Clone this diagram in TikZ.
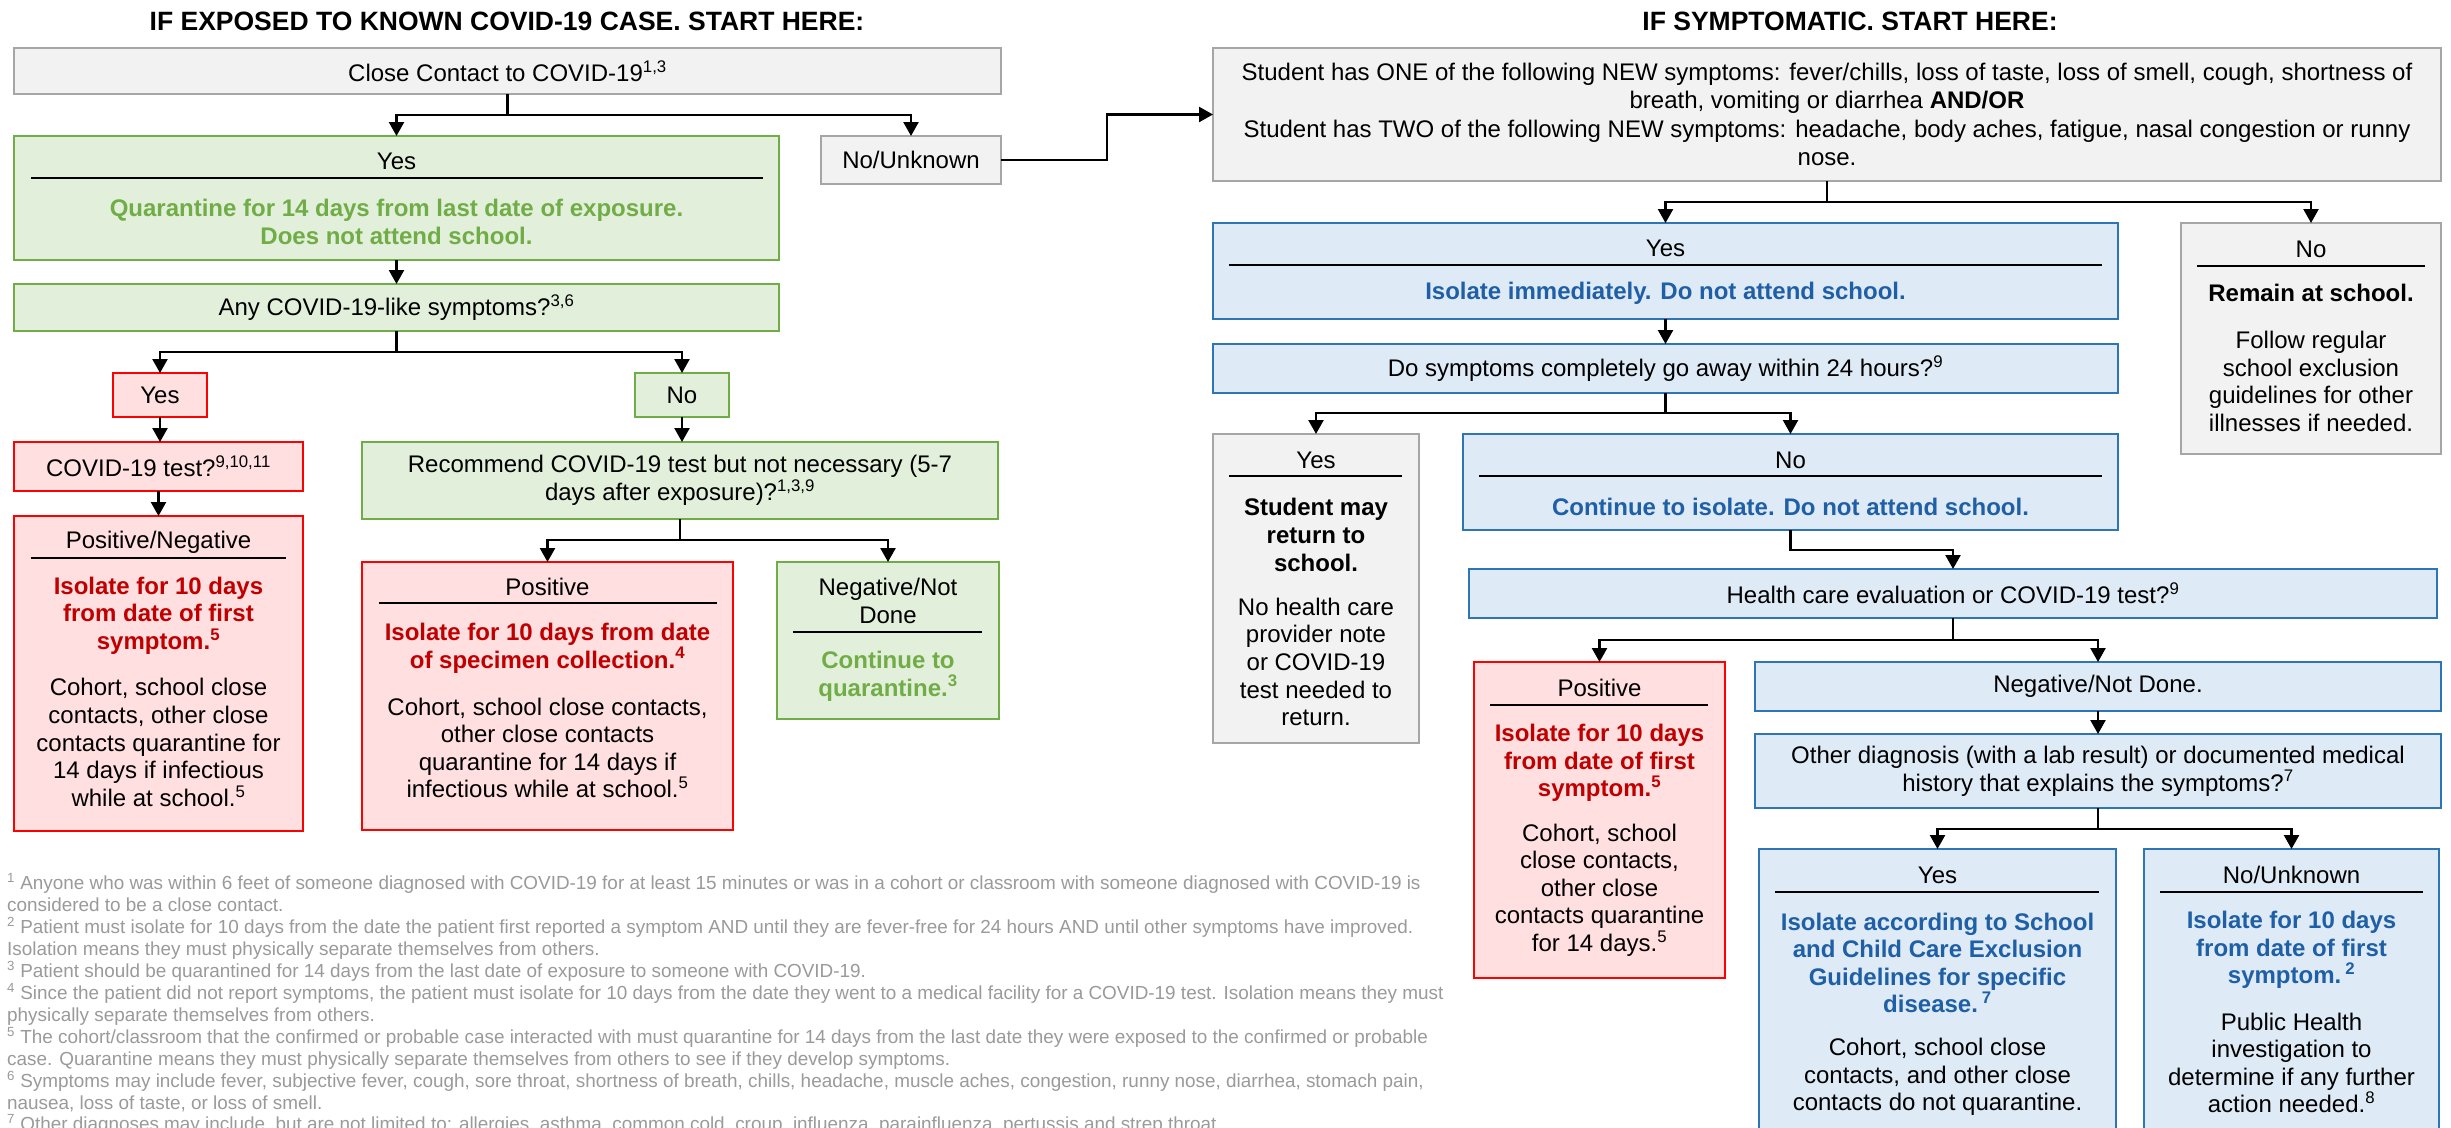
\documentclass[tikz,border=0pt]{standalone}
\usepackage{fontspec}
\setmainfont{Liberation Sans}
\usetikzlibrary{arrows.meta}
\definecolor{grayF}{HTML}{F2F2F2}
\definecolor{grayB}{HTML}{A6A6A6}
\definecolor{greenF}{HTML}{E2EFDA}
\definecolor{greenB}{HTML}{70AD47}
\definecolor{greenT}{HTML}{70AD47}
\definecolor{redF}{HTML}{FFDFDF}
\definecolor{redB}{HTML}{FF0000}
\definecolor{redT}{HTML}{C00000}
\definecolor{blueF}{HTML}{DEEAF6}
\definecolor{blueB}{HTML}{2E75B6}
\definecolor{blueT}{HTML}{1F5FA6}
\definecolor{fnT}{HTML}{9A9A9A}
\newcommand\fs{\fontsize{24}{27.6}\selectfont}
\newcommand\fnfs{\fontsize{18.9}{21.8}\selectfont}
\tikzset{
  base/.style={draw, line width=2.5pt, inner sep=0pt, outer sep=0pt, anchor=north west, align=center, font=\fs},
  gbox/.style={base, draw=grayB, fill=grayF},
  grbox/.style={base, draw=greenB, fill=greenF},
  rbox/.style={base, draw=redB, fill=redF},
  bbox/.style={base, draw=blueB, fill=blueF},
  txt/.style={inner sep=0pt, align=center, font=\fs},
  divline/.style={line width=2.2pt},
  conn/.style={line width=2.4pt, -{Triangle[length=14pt,width=15pt]}},
  fn/.style={inner sep=0pt, anchor=base west, font=\fnfs, text=fnT},
  ttl/.style={inner sep=0pt, font=\fontsize{26.5}{30}\selectfont\bfseries}
}
\begin{document}
\begin{tikzpicture}[x=1pt,y=-1pt]
\useasboundingbox (0,0) rectangle (2451,1127);
\fill[white] (0,0) rectangle (2451,1127);
\clip (0,0) rectangle (2451,1127);

% titles
\node[ttl] (t1) at (507,21) {IF EXPOSED TO KNOWN COVID-19 CASE. START HERE:};
\node[ttl] (t2) at (1850,21) {IF SYMPTOMATIC. START HERE:};

% ---------------- left flow ----------------
\node[gbox, minimum width=987, minimum height=46] (cc) at (14,48) {Close Contact to COVID-19\textsuperscript{1,3}};
\node[grbox, minimum width=765, minimum height=124] (yes1) at (14,136) {};
\node[txt] (yes1h) at (396.5,161) {Yes};
\draw[divline] (31,178) -- (763,178);
\node[txt, text=greenT, font=\fs\bfseries] (yes1b) at (396.5,222) {Quarantine for 14 days from last date of exposure.\\Does not attend school.};
\node[gbox, minimum width=180, minimum height=48] (nu1) at (821,136) {No/Unknown};

\node[grbox, minimum width=765, minimum height=47] (any) at (14,284) {Any COVID-19-like symptoms?\textsuperscript{3,6}};
\node[rbox, minimum width=94, minimum height=44] (yes2) at (113,373) {Yes};
\node[grbox, minimum width=94, minimum height=44] (no2) at (635,373) {No};
\node[rbox, minimum width=289, minimum height=49] (test) at (14,442) {COVID-19 test?\textsuperscript{9,10,11}};

\node[rbox, minimum width=289, minimum height=315] (pn) at (14,516) {};
\node[txt] (pnh) at (158.5,542) {Positive/Negative};
\draw[divline] (31,558) -- (286,558);
\node[txt, text=redT, font=\fs\bfseries] (pnr) at (158.5,615.5) {Isolate for 10 days\\from date of first\\symptom.\textsuperscript{5}};
\node[txt] (pnb) at (158.5,742.5) {Cohort, school close\\contacts, other close\\contacts quarantine for\\14 days if infectious\\while at school.\textsuperscript{5}};

\node[grbox, minimum width=636, minimum height=77] (rec) at (362,442) {Recommend COVID-19 test but not necessary (5-7\\days after exposure)?\textsuperscript{1,3,9}};

\node[rbox, minimum width=371, minimum height=268] (pos1) at (362,562) {};
\node[txt] (pos1h) at (547.5,587) {Positive};
\draw[divline] (379,603) -- (717,603);
\node[txt, text=redT, font=\fs\bfseries] (pos1r) at (547.5,648) {Isolate for 10 days from date\\of specimen collection.\textsuperscript{4}};
\node[txt] (pos1b) at (547.5,748) {Cohort, school close contacts,\\other close contacts\\quarantine for 14 days if\\infectious while at school.\textsuperscript{5}};

\node[grbox, minimum width=222, minimum height=157] (neg1) at (777,562) {};
\node[txt] (neg1h) at (888,601) {Negative/Not\\Done};
\draw[divline] (793,632) -- (982,632);
\node[txt, text=greenT, font=\fs\bfseries] (neg1g) at (888,676) {Continue to\\quarantine.\textsuperscript{3}};

% ---------------- right flow ----------------
\node[gbox, minimum width=1228, minimum height=133] (stu) at (1213,48) {Student has ONE of the following NEW symptoms: fever/chills, loss of taste, loss of smell, cough, shortness of\\breath, vomiting or diarrhea \textbf{AND/OR}\\[2pt]Student has TWO of the following NEW symptoms: headache, body aches, fatigue, nasal congestion or runny\\nose.};

\node[bbox, minimum width=905, minimum height=96] (yes3) at (1213,223) {};
\node[txt] (yes3h) at (1665.5,248) {Yes};
\draw[divline] (1229,265) -- (2102,265);
\node[txt, text=blueT, font=\fs\bfseries] (yes3b) at (1665.5,293) {Isolate immediately. Do not attend school.};

\node[gbox, minimum width=260, minimum height=231] (no3) at (2181,223) {};
\node[txt] (no3h) at (2311,249) {No};
\draw[divline] (2197,266) -- (2425,266);
\node[txt, font=\fs\bfseries] (no3r) at (2311,293) {Remain at school.};
\node[txt] (no3b) at (2311,381.5) {Follow regular\\school exclusion\\guidelines for other\\illnesses if needed.};

\node[bbox, minimum width=905, minimum height=49] (do) at (1213,344) {Do symptoms completely go away within 24 hours?\textsuperscript{9}};

\node[gbox, minimum width=206, minimum height=309] (yes4) at (1213,434) {};
\node[txt] (yes4h) at (1316,460) {Yes};
\draw[divline] (1229,476) -- (1402,476);
\node[txt, font=\fs\bfseries] (yes4r) at (1316,535) {Student may\\return to\\school.};
\node[txt] (yes4b) at (1316,662) {No health care\\provider note\\or COVID-19\\test needed to\\return.};

\node[bbox, minimum width=655, minimum height=96] (no4) at (1463,434) {};
\node[txt] (no4h) at (1790.5,460) {No};
\draw[divline] (1479,476) -- (2102,476);
\node[txt, text=blueT, font=\fs\bfseries] (no4b) at (1790.5,507) {Continue to isolate. Do not attend school.};

\node[bbox, minimum width=968, minimum height=49] (health) at (1469,569) {Health care evaluation or COVID-19 test?\textsuperscript{9}};

\node[rbox, minimum width=251, minimum height=316] (pos2) at (1474,662) {};
\node[txt] (pos2h) at (1599.5,688) {Positive};
\draw[divline] (1490,705) -- (1708,705);
\node[txt, text=redT, font=\fs\bfseries] (pos2r) at (1599.5,763) {Isolate for 10 days\\from date of first\\symptom.\textsuperscript{5}};
\node[txt] (pos2b) at (1599.5,890) {Cohort, school\\close contacts,\\other close\\contacts quarantine\\for 14 days.\textsuperscript{5}};

\node[bbox, minimum width=686, minimum height=49] (neg2) at (1755,662) {Negative/Not Done.};
\node[bbox, minimum width=686, minimum height=74] (oth) at (1755,734) {Other diagnosis (with a lab result) or documented medical\\history that explains the symptoms?\textsuperscript{7}};

\node[bbox, minimum width=357, minimum height=300] (yes5) at (1759,849) {};
\node[txt] (yes5h) at (1937.5,875) {Yes};
\draw[divline] (1775,892) -- (2099,892);
\node[txt, text=blueT, font=\fs\bfseries] (yes5r) at (1937.5,963) {Isolate according to School\\and Child Care Exclusion\\Guidelines for specific\\disease.\,\textsuperscript{7}};
\node[txt] (yes5b) at (1937.5,1077) {Cohort, school close\\contacts, and other close\\contacts do not quarantine.};

\node[bbox, minimum width=295, minimum height=300] (nu5) at (2144,849) {};
\node[txt] (nu5h) at (2291.5,875) {No/Unknown};
\draw[divline] (2160,892) -- (2423,892);
\node[txt, text=blueT, font=\fs\bfseries] (nu5r) at (2291.5,950) {Isolate for 10 days\\from date of first\\symptom.\,\textsuperscript{2}};
\node[txt] (nu5b) at (2291.5,1063) {Public Health\\investigation to\\determine if any further\\action needed.\textsuperscript{8}};

% left connectors
\draw[conn] (cc.south) -- ++(0,21) -| (yes1.north);
\draw[conn] (cc.south) -- ++(0,21) -| (nu1.north);
\draw[conn] (yes1.south) -- (any.north);
\draw[conn] (any.south) -- ++(0,21) -| (yes2.north);
\draw[conn] (any.south) -- ++(0,21) -| (no2.north);
\draw[conn] (yes2.south) -- (yes2.south |- test.north);
\draw[conn] (test.south) -- (pn.north);
\draw[conn] (no2.south) -- (no2.south |- rec.north);
\draw[conn] (rec.south) -- ++(0,21) -| (pos1.north);
\draw[conn] (rec.south) -- ++(0,21) -| (neg1.north);
\draw[conn] (nu1.east) -- ++(106,0) |- (stu.west);

% right connectors
\draw[conn] (stu.south) -- ++(0,21) -| (yes3.north);
\draw[conn] (stu.south) -- ++(0,21) -| (no3.north);
\draw[conn] (yes3.south) -- (do.north);
\draw[conn] (do.south) -- ++(0,20) -| (yes4.north);
\draw[conn] (do.south) -- ++(0,20) -| (no4.north);
\draw[conn] (no4.south) -- ++(0,20) -| (health.north);
\draw[conn] (health.south) -- ++(0,22) -| (pos2.north);
\draw[conn] (health.south) -- ++(0,22) -| (neg2.north);
\draw[conn] (neg2.south) -- (oth.north);
\draw[conn] (oth.south) -- ++(0,21) -| (yes5.north);
\draw[conn] (oth.south) -- ++(0,21) -| (nu5.north);

% footnotes
\node[fn] (fn1) at (7,889) {\textsuperscript{1} Anyone who was within 6 feet of someone diagnosed with COVID-19 for at least 15 minutes or was in a cohort or classroom with someone diagnosed with COVID-19 is};
\node[fn] (fn2) at (7,911) {considered to be a close contact.};
\node[fn] (fn3) at (7,933) {\textsuperscript{2} Patient must isolate for 10 days from the date the patient first reported a symptom AND until they are fever-free for 24 hours AND until other symptoms have improved.};
\node[fn] (fn4) at (7,955) {Isolation means they must physically separate themselves from others.};
\node[fn] (fn5) at (7,977) {\textsuperscript{3} Patient should be quarantined for 14 days from the last date of exposure to someone with COVID-19.};
\node[fn] (fn6) at (7,999) {\textsuperscript{4} Since the patient did not report symptoms, the patient must isolate for 10 days from the date they went to a medical facility for a COVID-19 test. Isolation means they must};
\node[fn] (fn7) at (7,1021) {physically separate themselves from others.};
\node[fn] (fn8) at (7,1043) {\textsuperscript{5} The cohort/classroom that the confirmed or probable case interacted with must quarantine for 14 days from the last date they were exposed to the confirmed or probable};
\node[fn] (fn9) at (7,1065) {case. Quarantine means they must physically separate themselves from others to see if they develop symptoms.};
\node[fn] (fn10) at (7,1087) {\textsuperscript{6} Symptoms may include fever, subjective fever, cough, sore throat, shortness of breath, chills, headache, muscle aches, congestion, runny nose, diarrhea, stomach pain,};
\node[fn] (fn11) at (7,1109) {nausea, loss of taste, or loss of smell.};
\node[fn] (fn12) at (7,1130) {\textsuperscript{7} Other diagnoses may include, but are not limited to: allergies, asthma, common cold, croup, influenza, parainfluenza, pertussis and strep throat.};
\end{tikzpicture}
\end{document}
